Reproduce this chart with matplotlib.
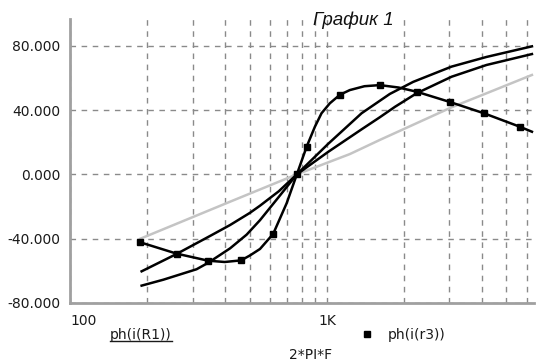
import matplotlib
matplotlib.use("Agg")
import matplotlib.pyplot as plt
from matplotlib.lines import Line2D
from matplotlib.ticker import FixedLocator, NullFormatter

# angular frequency 2*pi*F (rad/s) and phase of the branch currents (degrees)
omega_r3 = [188, 260, 345, 400, 463, 501, 549, 618, 697, 764, 834, 898, 953,
            1027, 1124, 1228, 1400, 1607, 1900, 2234, 3011, 4083, 5638, 6283]
phase_r3 = [-42.3, -49.3, -53.7, -54.5, -53.5, -50.5, -46.4, -37.0, -18.0, 0.0,
            17.2, 29.6, 38.0, 44.2, 49.5, 52.4, 54.8, 55.5, 54.0, 51.4, 45.0,
            38.0, 29.6, 26.5]
marker_idx = [0, 1, 2, 4, 7, 9, 10, 14, 17, 19, 20, 21, 22]

omega_r1 = [190, 231, 311, 345, 420, 487, 549, 650, 764, 1012, 1365, 1758,
            2167, 3058, 4180, 6283]
phase_r1 = [-69.2, -65.5, -59.0, -55.0, -46.0, -37.5, -28.5, -14.0, 0.0,
            19.0, 38.0, 50.0, 57.5, 67.0, 73.0, 79.6]

omega_r2 = [190, 260, 351, 420, 501, 549, 650, 764, 1012, 1365, 1607, 1841,
            2234, 3058, 4180, 6283]
phase_r2 = [-60.3, -49.5, -38.3, -31.5, -24.0, -19.5, -10.5, 0.0, 14.0, 28.0,
            35.5, 42.0, 50.4, 60.7, 68.0, 74.8]

omega_src = [188, 420, 764, 1228, 1607, 3058, 4180, 6283]
phase_src = [-40.0, -17.0, 0.0, 12.6, 21.4, 41.7, 50.4, 61.8]

y_ticks = [-80, -40, 0, 40, 80]
y_labels = ["-80.000", "-40.000", "0.000", "40.000", "80.000"]
x_major = [100, 1000]
x_labels = ["100", "1K"]
x_minor = [200, 300, 400, 500, 600, 700, 800, 900,
           2000, 3000, 4000, 5000, 6000]

plt.rcParams["font.family"] = ["DejaVu Sans"]

W, H = 545, 362
fig = plt.figure(figsize=(W / 100, H / 100), dpi=100)
ax = fig.add_axes([70 / W, 59 / H, 464 / W, 284 / H])

ax.set_xscale("log")
ax.set_xlim(100, 6400)
ax.set_ylim(-80, 96.6)

grid_kw = dict(color="#8a8a8a", linewidth=1.0, linestyle=(0, (4, 4)))
ax.set_xticks(x_major)
ax.set_xticklabels(x_labels)
ax.xaxis.set_minor_locator(FixedLocator(x_minor))
ax.xaxis.set_minor_formatter(NullFormatter())
ax.set_yticks(y_ticks)
ax.set_yticklabels(y_labels)
ax.grid(True, which="both", axis="x", **grid_kw)
ax.grid(True, which="major", axis="y", **grid_kw)
ax.set_axisbelow(True)

ax.tick_params(which="both", length=0, labelsize=10, colors="#1a1a1a")
ax.tick_params(axis="x", pad=8)
ax.tick_params(axis="y", pad=7)
ax.get_xticklabels()[0].set_horizontalalignment("left")

for side in ("top", "right"):
    ax.spines[side].set_visible(False)
for side in ("left", "bottom"):
    ax.spines[side].set_color("#a0a0a0")
    ax.spines[side].set_linewidth(2)

ax.plot(omega_src, phase_src, color="#c4c4c4", linewidth=1.8, zorder=3)
ax.plot(omega_r2, phase_r2, color="black", linewidth=1.8, zorder=4)
ax.plot(omega_r1, phase_r1, color="black", linewidth=1.8, zorder=4)
ax.plot(omega_r3, phase_r3, color="black", linewidth=1.8, marker="s",
        markersize=5, markevery=marker_idx, zorder=5)

fig.text(353 / W, 1 - 20 / H, "График 1", fontsize=13.5, style="italic",
         family=["Liberation Sans", "DejaVu Sans"], ha="center", va="center",
         color="#111111")

leg1 = fig.text(141 / W, 1 - 335 / H, "ph(i(R1))", fontsize=10, ha="center",
                va="center", color="#1a1a1a")
fig.add_artist(Line2D([367 / W], [1 - 334 / H], marker="s", markersize=5,
                      color="black", linestyle="none",
                      transform=fig.transFigure))
fig.text(388 / W, 1 - 335 / H, "ph(i(r3))", fontsize=10, ha="left",
         va="center", color="#1a1a1a")
fig.text(311 / W, 1 - 355 / H, "2*PI*F", fontsize=10, ha="center",
         va="center", color="#1a1a1a")

# underline the first legend entry
fig.canvas.draw()
bb = leg1.get_window_extent(renderer=fig.canvas.get_renderer())
uy = (bb.y0 + 1.5) / H
fig.add_artist(Line2D([bb.x0 / W, bb.x1 / W], [uy, uy], color="#1a1a1a",
                      linewidth=1.0, transform=fig.transFigure))

fig.savefig("out.png", dpi=100, facecolor="white")
